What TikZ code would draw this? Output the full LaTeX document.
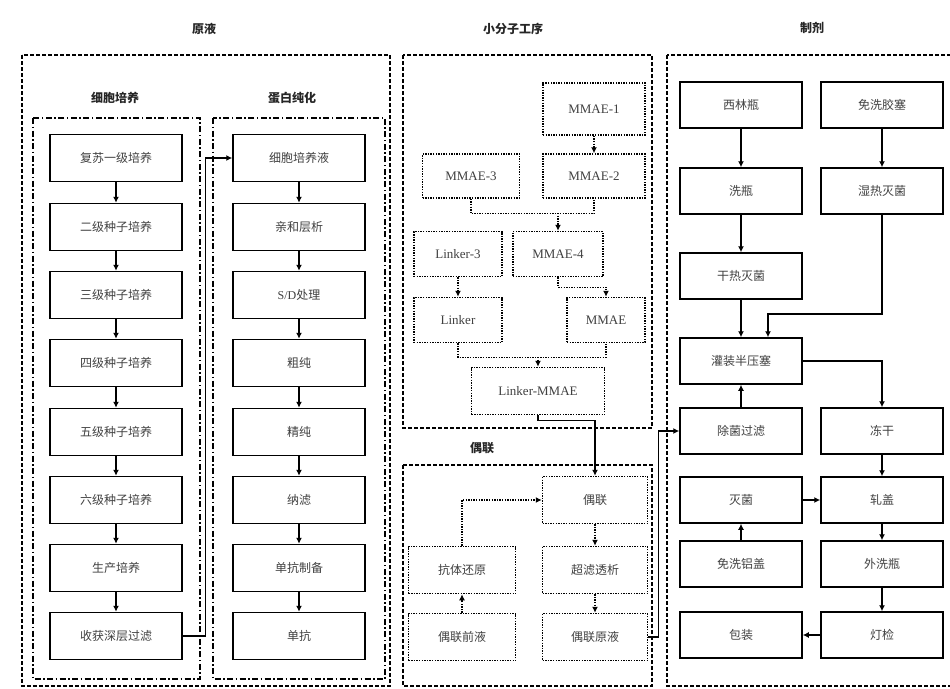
\documentclass[tikz,border=0pt]{standalone}
\usepackage{fontspec}
\setmainfont{Liberation Serif}
\newfontfamily\cjk{Noto Sans CJK SC}
\usetikzlibrary{arrows.meta}
\tikzset{
  box/.style={draw, line width=1.5pt, minimum width=132pt, minimum height=47pt, inner sep=0pt, font=\cjk\fontsize{12}{14}\selectfont, text=black!75},
  fbox/.style={box, minimum width=122pt, minimum height=46pt},
  dbox/.style={draw, line width=1.5pt, dash pattern=on 1.4pt off 1.2pt, inner sep=0pt, font=\fontsize{13}{15}\selectfont, text=black!75},
  dcbox/.style={dbox, font=\cjk\fontsize{12}{14}\selectfont},
  arr/.style={line width=1.4pt, -{Latex[length=6pt,width=6pt]}},
  dline/.style={line width=1.4pt, dash pattern=on 1.4pt off 1.2pt},
  darr/.style={dline, -{Latex[length=6pt,width=6pt]}},
  grp/.style={line width=1.7pt, dash pattern=on 4pt off 2pt},
  sub/.style={line width=1.5pt, dash pattern=on 6pt off 2.5pt on 1.5pt off 2.5pt},
  ttl/.style={font=\cjk\bfseries\fontsize{12}{14}\selectfont, text=black!85}
}
\begin{document}
\begin{tikzpicture}[x=1pt,y=-1pt]
\useasboundingbox (0,0) rectangle (950,688);
% group frames
\draw[grp] (22,55) rectangle (390,686);
\draw[sub] (33,118) rectangle (200,679);
\draw[sub] (213,118) rectangle (385,679);
\draw[grp] (403,55) rectangle (652,428);
\draw[grp] (403,465) rectangle (652,686);
\draw[grp] (667,55) rectangle (955,686);
% titles
\node[ttl] (t1) at (204,29) {原液};
\node[ttl] (t2) at (513,29) {小分子工序};
\node[ttl] (t3) at (812,28) {制剂};
\node[ttl] (t4) at (115,98) {细胞培养};
\node[ttl] (t5) at (292,98) {蛋白纯化};
\node[ttl] (t6) at (482,448) {偶联};
% cell culture
\node[box] (c1) at (116,158) {复苏一级培养};
\node[box] (c2) at (116,227) {二级种子培养};
\node[box] (c3) at (116,295) {三级种子培养};
\node[box] (c4) at (116,363) {四级种子培养};
\node[box] (c5) at (116,432) {五级种子培养};
\node[box] (c6) at (116,500) {六级种子培养};
\node[box] (c7) at (116,568) {生产培养};
\node[box] (c8) at (116,636) {收获深层过滤};
% purification
\node[box] (p1) at (299,158) {细胞培养液};
\node[box] (p2) at (299,227) {亲和层析};
\node[box] (p3) at (299,295) {{\rmfamily S/D}处理};
\node[box] (p4) at (299,363) {粗纯};
\node[box] (p5) at (299,432) {精纯};
\node[box] (p6) at (299,500) {纳滤};
\node[box] (p7) at (299,568) {单抗制备};
\node[box] (p8) at (299,636) {单抗};
\foreach \i [evaluate=\i as \j using int(\i+1)] in {1,...,7} {
  \draw[arr] (c\i) -- (c\j);
  \draw[arr] (p\i) -- (p\j);
}
\draw[arr] (c8.east) -- ++(23,0) |- (p1.west);
% small molecule
\node[dbox, minimum width=102pt, minimum height=52pt] (m1) at (594,109) {MMAE-1};
\node[dbox, minimum width=97pt, minimum height=44pt] (m3) at (471,176) {MMAE-3};
\node[dbox, minimum width=102pt, minimum height=44pt] (m2) at (594,176) {MMAE-2};
\node[dbox, minimum width=90pt, minimum height=45pt] (m4) at (558,254) {MMAE-4};
\node[dbox, minimum width=88pt, minimum height=45pt] (l3) at (458,254) {Linker-3};
\node[dbox, minimum width=88pt, minimum height=45pt] (lk) at (458,320) {Linker};
\node[dbox, minimum width=78pt, minimum height=45pt] (mm) at (606,320) {MMAE};
\node[dbox, minimum width=133pt, minimum height=47pt] (lm) at (538,391) {Linker-MMAE};
\draw[darr] (m1) -- (m2);
\draw[dline] (m3.south) -- ++(0,15) -| (m2.south);
\coordinate (j1) at (558,213);
\draw[darr] (j1) -- (m4.north);
\draw[darr] (l3) -- (lk);
\draw[darr] (m4.south) -- ++(0,10) -| (mm.north);
\draw[dline] (lk.south) -- ++(0,14) -| (mm.south);
\coordinate (j2) at (538,357);
\draw[darr] (j2) -- (lm.north);
% conjugation
\node[dcbox, minimum width=105pt, minimum height=47pt] (ou) at (595,500) {偶联};
\node[dcbox, minimum width=107pt, minimum height=47pt] (kh) at (462,570) {抗体还原};
\node[dcbox, minimum width=105pt, minimum height=47pt] (cl) at (595,570) {超滤透析};
\node[dcbox, minimum width=107pt, minimum height=47pt] (qy) at (462,637) {偶联前液};
\node[dcbox, minimum width=105pt, minimum height=47pt] (yy) at (595,637) {偶联原液};
\draw[arr] (lm.south) -- ++(0,5) -| (ou.north);
\draw[darr] (kh.north) |- (ou.west);
\draw[darr] (qy) -- (kh);
\draw[darr] (ou) -- (cl);
\draw[darr] (cl) -- (yy);
% formulation
\node[fbox] (f1) at (741,105) {西林瓶};
\node[fbox] (f2) at (882,105) {免洗胶塞};
\node[fbox] (f3) at (741,191) {洗瓶};
\node[fbox] (f4) at (882,191) {湿热灭菌};
\node[fbox] (f5) at (741,276) {干热灭菌};
\node[fbox] (f6) at (741,361) {灌装半压塞};
\node[fbox] (f7) at (741,431) {除菌过滤};
\node[fbox] (f8) at (882,431) {冻干};
\node[fbox] (f9) at (741,500) {灭菌};
\node[fbox] (f10) at (882,500) {轧盖};
\node[fbox] (f11) at (741,564) {免洗铝盖};
\node[fbox] (f12) at (882,564) {外洗瓶};
\node[fbox] (f13) at (741,635) {包装};
\node[fbox] (f14) at (882,635) {灯检};
\draw[arr] (yy.east) -- ++(10,0) |- (f7.west);
\draw[arr] (f1) -- (f3);
\draw[arr] (f3) -- (f5);
\draw[arr] (f5) -- (f6);
\draw[arr] (f2) -- (f4);
\coordinate (k1) at (768,314);
\draw[arr] (f4.south) |- (k1) -- (k1 |- f6.north);
\draw[arr] (f7) -- (f6);
\draw[arr] (f6.east) -| (f8.north);
\draw[arr] (f8) -- (f10);
\draw[arr] (f9) -- (f10);
\draw[arr] (f11) -- (f9);
\draw[arr] (f10) -- (f12);
\draw[arr] (f12) -- (f14);
\draw[arr] (f14) -- (f13);
\end{tikzpicture}
\end{document}
